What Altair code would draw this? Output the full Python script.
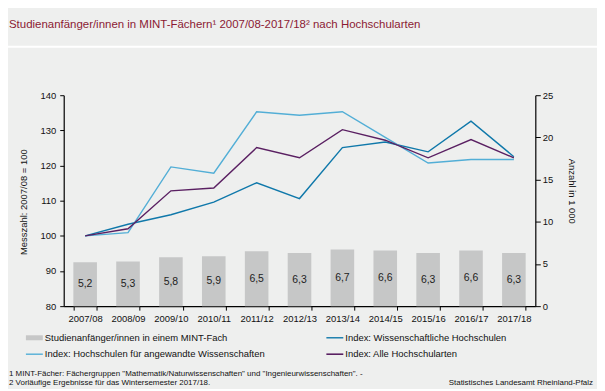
import altair as alt
import pandas as pd

# ---------------- data ----------------
years = ["2007/08", "2008/09", "2009/10", "2010/11", "2011/12", "2012/13",
         "2013/14", "2014/15", "2015/16", "2016/17", "2017/18"]
students = [5.2, 5.3, 5.8, 5.9, 6.5, 6.3, 6.7, 6.6, 6.3, 6.6, 6.3]
student_labels = ["5,2", "5,3", "5,8", "5,9", "6,5", "6,3", "6,7", "6,6", "6,3", "6,6", "6,3"]
idx_uni = [100, 103.3, 106.0, 109.6, 115.1, 110.6, 125.1, 126.7, 123.9, 132.6, 122.5]
idx_haw = [100, 100.9, 119.6, 117.8, 135.3, 134.3, 135.3, 128.0, 120.7, 121.7, 121.7]
idx_all = [100, 102.0, 112.8, 113.6, 125.1, 122.2, 130.2, 127.2, 122.2, 127.4, 122.2]

series_names = ["Index: Wissenschaftliche Hochschulen",
                "Index: Hochschulen für angewandte Wissenschaften",
                "Index: Alle Hochschularten"]
series_colors = ["#0f78aa", "#52aed6", "#5a2062"]
series_widths = [1.4, 1.4, 2.2]

legend_labels = ["Studienanfänger/innen in einem MINT-Fach",
                 "Index: Wissenschaftliche Hochschulen",
                 "Index: Hochschulen für angewandte Wissenschaften",
                 "Index: Alle Hochschularten"]
legend_colors = ["#c6c7c7", "#0f78aa", "#52aed6", "#5a2062"]
legend_widths = [5, 1.4, 1.4, 1.6]

title_text = "Studienanfänger/innen in MINT-Fächern¹ 2007/08-2017/18² nach Hochschularten"
foot1 = "1 MINT-Fächer: Fächergruppen \"Mathematik/Naturwissenschaften\" und \"Ingenieurwissenschaften\". -"
foot2 = "2 Vorläufige Ergebnisse für das Wintersemester 2017/18."
source = "Statistisches Landesamt Rheinland-Pfalz"

# ---------------- tables ----------------
bars_df = pd.DataFrame({"year": years, "students": students, "label": student_labels})
rows = []
for name, vals in zip(series_names, [idx_uni, idx_haw, idx_all]):
    for y, v in zip(years, vals):
        rows.append({"year": y, "series": name, "value": v})
lines_df = pd.DataFrame(rows)

FONT = "Liberation Sans"
W, H = 474, 212


def xenc(**kw):
    return alt.X("year:N", sort=years,
                 scale=alt.Scale(paddingInner=0.45, paddingOuter=0.225),
                 axis=alt.Axis(title=None, labelAngle=0, tickBand="extent",
                               domainColor="black", tickColor="black", tickSize=4,
                               labelFontSize=9.5, labelColor="#111", labelPadding=3,
                               domainWidth=1.2),
                 **kw)


right_axis = alt.Axis(orient="right", values=[0, 5, 10, 15, 20, 25],
                      title="Anzahl in 1 000", titleFontWeight="normal",
                      titleFontSize=9.5, titleColor="#111", titleX=31, titleY=96,
                      titleAngle=90,
                      domainColor="black", tickColor="black", tickSize=5,
                      labelFontSize=9.5, labelColor="#111", labelPadding=2,
                      grid=False, domainWidth=1.2)

bars = alt.Chart(bars_df).mark_bar(color="#c6c7c7").encode(
    x=xenc(),
    y=alt.Y("students:Q", scale=alt.Scale(domain=[0, 25]), axis=right_axis),
)
bar_text = alt.Chart(bars_df).transform_calculate(mid="datum.students / 2").mark_text(
    fontSize=10.5, color="#222", font=FONT
).encode(
    x=xenc(bandPosition=0.5),
    y=alt.Y("mid:Q", scale=alt.Scale(domain=[0, 25]), axis=right_axis),
    text="label:N",
)
bar_layer = alt.layer(bars, bar_text)

lines = alt.Chart(lines_df).mark_line().encode(
    x=xenc(bandPosition=0.5),
    y=alt.Y("value:Q", scale=alt.Scale(domain=[80, 140]),
            axis=alt.Axis(orient="left", values=[80, 90, 100, 110, 120, 130, 140],
                          title="Messzahl: 2007/08 = 100", titleFontWeight="normal",
                          titleFontSize=9.5, titleColor="#111", titleX=-35, titleY=107,
                          titleAngle=-90,
                          domainColor="black", tickColor="black", tickSize=4,
                          labelFontSize=9.5, labelColor="#111", labelPadding=4,
                          grid=False, domainWidth=1.2)),
    color=alt.Color("series:N", scale=alt.Scale(domain=series_names, range=series_colors),
                    legend=None),
    strokeWidth=alt.StrokeWidth("series:N",
                                scale=alt.Scale(domain=series_names, range=series_widths),
                                legend=None),
    order=alt.Order("series:N"),
)

main = alt.layer(bar_layer, lines).resolve_scale(y="independent")

# ---------------- annotations (page coordinates -> plot coordinates) ----------------
OX, OY = 64, 94.7
one = pd.DataFrame({"a": [0]})


def txt(text, px, py, size, color="#111", align="left", baseline="middle"):
    return alt.Chart(one).mark_text(
        text=text, fontSize=size, color=color, align=align, baseline=baseline, font=FONT
    ).encode(x=alt.value(px - OX), y=alt.value(py - OY))


annots = []
annots.append(txt(title_text, 9, 24, 11.5, color="#8b1a33"))
annots.append(alt.Chart(one).mark_rule(color="white", strokeWidth=2).encode(
    x=alt.value(8 - OX), x2=alt.value(600 - OX), y=alt.value(46 - OY)))

col_swatch = [(26, 43), (328, 345)]
col_text = [45, 347]
row_y = [338.5, 355]
for i, (lab, colr, wd) in enumerate(zip(legend_labels, legend_colors, legend_widths)):
    c, r = i % 2, i // 2
    annots.append(alt.Chart(one).mark_rule(color=colr, strokeWidth=wd).encode(
        x=alt.value(col_swatch[c][0] - OX), x2=alt.value(col_swatch[c][1] - OX),
        y=alt.value(row_y[r] - OY)))
    annots.append(txt(lab, col_text[c], row_y[r], 9.5))

annots.append(txt(foot1, 9, 375, 8))
annots.append(txt(foot2, 9, 383.5, 8))
annots.append(txt(source, 596, 383.5, 8, align="right"))

chart = alt.layer(main, *annots).properties(
    width=W, height=H,
    autosize=alt.AutoSizeParams(type="none"),
    padding={"left": 56, "top": 86.7, "right": 62, "bottom": 82},
).configure(background="#eeefee", font=FONT).configure_view(stroke=None)

chart.save("out.html", embed_options={"renderer": "svg", "actions": False})
